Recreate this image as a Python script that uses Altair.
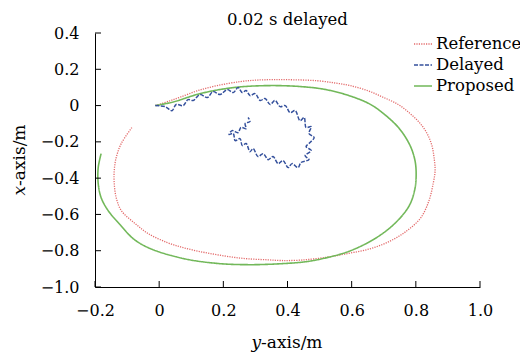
import altair as alt
import pandas as pd

# Reference trajectory (red dotted)
ref_x = [-0.012, 0.030, 0.065, 0.120, 0.181, 0.252, 0.300, 0.355, 0.420, 0.492, 0.550, 0.595, 0.650, 0.698,
         0.745, 0.782, 0.812, 0.835, 0.850, 0.857, 0.860, 0.854, 0.841, 0.816, 0.773, 0.723, 0.660, 0.586,
         0.514, 0.439, 0.380, 0.336, 0.280, 0.231, 0.180, 0.128, 0.075, 0.025, -0.035, -0.075, -0.118,
         -0.134, -0.140, -0.140, -0.134, -0.118, -0.085]
ref_y = [0.000, 0.024, 0.046, 0.082, 0.110, 0.132, 0.140, 0.143, 0.142, 0.137, 0.124, 0.110, 0.082, 0.046,
         0.006, -0.044, -0.095, -0.154, -0.220, -0.290, -0.360, -0.430, -0.524, -0.617, -0.689, -0.744, -0.788, -0.816,
         -0.838, -0.852, -0.854, -0.850, -0.845, -0.836, -0.822, -0.805, -0.783, -0.755, -0.705, -0.650, -0.579,
         -0.507, -0.430, -0.358, -0.287, -0.209, -0.121]

# Proposed trajectory (green solid)
pro_x = [-0.012, 0.044, 0.128, 0.231, 0.336, 0.439, 0.520, 0.600, 0.660, 0.710, 0.750, 0.782, 0.797, 0.801,
         0.797, 0.780, 0.740, 0.680, 0.598, 0.523, 0.460, 0.386, 0.283, 0.181, 0.075, -0.028, -0.080, -0.120,
         -0.159, -0.181, -0.190, -0.190, -0.181]
pro_y = [0.000, 0.020, 0.066, 0.099, 0.110, 0.105, 0.088, 0.050, 0.005, -0.060, -0.130, -0.220, -0.300, -0.375,
         -0.460, -0.550, -0.640, -0.725, -0.799, -0.838, -0.860, -0.871, -0.877, -0.870, -0.843, -0.788, -0.735, -0.660,
         -0.579, -0.507, -0.430, -0.342, -0.265]

# Delayed trajectory (blue dashed, wiggly)
del_x = [-0.012, 0.019, 0.040, 0.053, 0.075, 0.090, 0.106, 0.128, 0.150, 0.168, 0.190, 0.212, 0.231, 0.246,
         0.259, 0.271, 0.283, 0.299, 0.315, 0.330, 0.346, 0.361, 0.377, 0.393, 0.408, 0.424, 0.439, 0.452,
         0.458, 0.474, 0.467, 0.483, 0.470, 0.458, 0.474, 0.455, 0.467, 0.442, 0.433, 0.414, 0.402, 0.386,
         0.371, 0.355, 0.340, 0.324, 0.308, 0.293, 0.283, 0.271, 0.259, 0.252, 0.237, 0.231, 0.218, 0.227,
         0.246, 0.255, 0.271, 0.268, 0.283, 0.277]
del_y = [0.000, -0.006, -0.028, 0.006, 0.000, 0.033, 0.028, 0.061, 0.044, 0.077, 0.061, 0.088, 0.072, 0.099,
         0.072, 0.083, 0.055, 0.066, 0.028, 0.039, 0.006, 0.028, -0.006, 0.000, -0.039, -0.028, -0.083, -0.066,
         -0.121, -0.116, -0.154, -0.176, -0.204, -0.226, -0.248, -0.276, -0.298, -0.314, -0.342, -0.320, -0.342, -0.303,
         -0.320, -0.281, -0.298, -0.265, -0.281, -0.237, -0.254, -0.209, -0.220, -0.182, -0.193, -0.154, -0.160, -0.138,
         -0.149, -0.121, -0.127, -0.099, -0.088, -0.066]

series_names = ["Reference", "Delayed", "Proposed"]
series_colors = ["#e36b6b", "#34509c", "#72b85a"]
series_dash = [[1.2, 1.2], [4, 1.5], [1, 0]]

x_ticks = [-0.2, 0, 0.2, 0.4, 0.6, 0.8, 1.0]
y_ticks = [0.4, 0.2, 0, -0.2, -0.4, -0.6, -0.8, -1.0]

W, H = 385, 254
FONT = "DejaVu Serif"

def frame(xs, ys, name):
    return pd.DataFrame({"x": xs, "y": ys, "series": name, "idx": range(len(xs))})

df_ref = frame(ref_x, ref_y, "Reference")
df_pro = frame(pro_x, pro_y, "Proposed")
df_del = frame(del_x, del_y, "Delayed")

xscale = alt.Scale(domain=[-0.2, 1.0], nice=False, zero=False)
yscale = alt.Scale(domain=[-1.0, 0.4], nice=False, zero=False)
label_expr = "datum.value == 0 ? '0' : format(datum.value, '.1f')"

x_axis = alt.Axis(values=x_ticks, labelExpr=label_expr, title=None, ticks=False, grid=False,
                  labelPadding=15, labelFlush=False, labelOverlap=False,
                  labelFont=FONT, labelFontSize=16, labelColor="black", domainColor="black")
y_axis = alt.Axis(values=y_ticks, labelExpr=label_expr, title=None, ticks=False, grid=False,
                  labelPadding=16, labelFlush=False, labelOverlap=False,
                  labelFont=FONT, labelFontSize=16, labelColor="black", domainColor="black")
x_enc = alt.X("x:Q", scale=xscale, axis=x_axis)
y_enc = alt.Y("y:Q", scale=yscale, axis=y_axis)
legend = alt.Legend(title=None, orient="none", legendX=318, legendY=1,
                    symbolType="stroke", symbolSize=324, symbolStrokeWidth=1.6,
                    labelFont=FONT, labelFontSize=16.5, labelColor="black",
                    rowPadding=2, labelOffset=3, padding=0)
color_enc = alt.Color("series:N", scale=alt.Scale(domain=series_names, range=series_colors), legend=legend)
dash_enc = alt.StrokeDash("series:N", scale=alt.Scale(domain=series_names, range=series_dash), legend=legend)

def line(df, width):
    return alt.Chart(df).mark_line(strokeWidth=width, interpolate="catmull-rom").encode(
        x=x_enc, y=y_enc, color=color_enc, strokeDash=dash_enc, order="idx:Q")

ref_layer = line(df_ref, 1.3)
pro_layer = line(df_pro, 1.6)
del_layer = line(df_del, 1.5)

xt = alt.Chart(pd.DataFrame({"x": x_ticks})).mark_rule(color="black", strokeWidth=1).encode(
    x=alt.X("x:Q", scale=xscale, axis=x_axis), y=alt.value(H), y2=alt.value(H - 6))
yt = alt.Chart(pd.DataFrame({"y": y_ticks})).mark_rule(color="black", strokeWidth=1).encode(
    y=alt.Y("y:Q", scale=yscale, axis=y_axis), x=alt.value(0), x2=alt.value(6))

def txt(s, x, y, **kw):
    return alt.Chart(pd.DataFrame({"t": [s]})).mark_text(font=FONT, color="black", **kw).encode(
        text="t:N", x=alt.value(x), y=alt.value(y))

title = txt("0.02 s delayed", W / 2, -8, fontSize=16.5, align="center", baseline="alphabetic")
xt1 = txt("y", 166, 315, fontSize=17, fontStyle="italic", align="right", baseline="alphabetic")
xt2 = txt("-axis/m", 166, 315, fontSize=17, align="left", baseline="alphabetic")
yt1 = txt("x", -75, 153, fontSize=17, fontStyle="italic", align="right", baseline="middle", angle=270)
yt2 = txt("-axis/m", -75, 153, fontSize=17, align="left", baseline="middle", angle=270)

chart = alt.layer(ref_layer, pro_layer, del_layer, xt, yt, title, xt1, xt2, yt1, yt2).properties(
    width=W, height=H,
    padding={"left": 87, "top": 25, "right": 40, "bottom": 70},
    autosize=alt.AutoSizeParams(type="none"),
    background="white",
).configure_view(stroke=None)

chart.save("out.html", embed_options={"renderer": "svg", "actions": False})
